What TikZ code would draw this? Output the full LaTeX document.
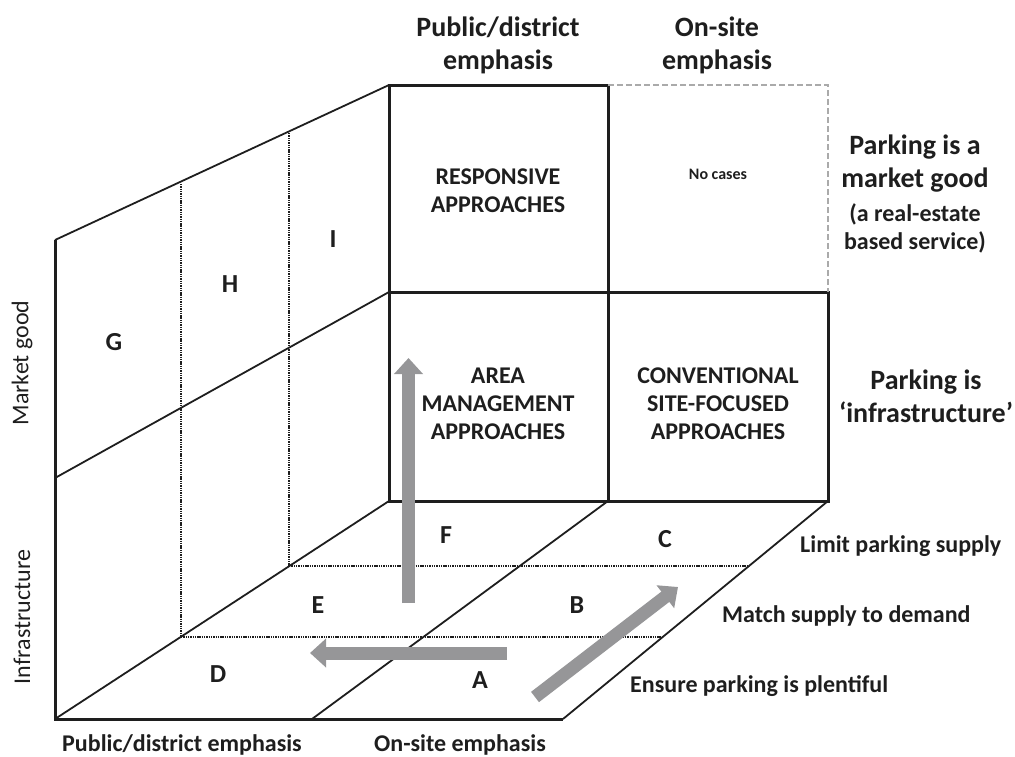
\documentclass[tikz,border=0pt]{standalone}
\usepackage{fontspec}
\setmainfont{Carlito}
\usetikzlibrary{arrows.meta,calc}
\definecolor{arrowgray}{RGB}{150,150,152}
\definecolor{ink}{RGB}{30,30,30}
\definecolor{dashgray}{RGB}{170,170,170}
\begin{document}
\begin{tikzpicture}[x=1pt,y=-1pt,
  thickline/.style={line width=3pt, draw=ink, line join=miter},
  thinline/.style={line width=1.8pt, draw=ink},
  dotline/.style={line width=2.2pt, draw=ink, dash pattern=on 1.4pt off 0.9pt},
  lightdash/.style={line width=1.3pt, draw=dashgray, dash pattern=on 6pt off 3pt},
  grayarrow/.style={line width=13pt, draw=arrowgray, -{Triangle[length=16pt,width=28pt]}},
  big/.style={font=\fontsize{28}{33}\selectfont\bfseries, text=ink, align=center, inner sep=0pt},
  mid/.style={font=\fontsize{24}{28}\selectfont\bfseries, text=ink, align=center, inner sep=0pt},
  small/.style={font=\fontsize{16}{19}\selectfont\bfseries, text=ink, align=center, inner sep=0pt},
  letter/.style={font=\fontsize{26}{30}\selectfont\bfseries, text=ink, inner sep=0pt},
  side/.style={font=\fontsize{24}{28}\selectfont\bfseries, text=ink, inner sep=0pt, anchor=west},
  axis/.style={font=\fontsize{24}{28}\selectfont, text=ink, inner sep=0pt, rotate=90}]
\useasboundingbox (0,0) rectangle (1015,756);
% front wall
\coordinate (F00) at (389,85);  \coordinate (F10) at (608,85);  \coordinate (F20) at (828,85);
\coordinate (F01) at (389,292); \coordinate (F11) at (608,292); \coordinate (F21) at (828,292);
\coordinate (F02) at (389,501); \coordinate (F12) at (608,501); \coordinate (F22) at (828,501);
% floor front edge
\coordinate (P0) at (55,719); \coordinate (P1) at (312,719); \coordinate (P2) at (563,719);
% left wall
\coordinate (L0) at (55,240); \coordinate (L1) at (55,478);
% floor dotted lines
\coordinate (D1a) at (289,566); \coordinate (D1b) at (748,566);
\coordinate (D2a) at (181,637); \coordinate (D2b) at (662,637);
% left wall dotted verticals
\coordinate (V1t) at (181,184); \coordinate (V2t) at (289,133);
% arrows
\coordinate (va0) at (408.5,603); \coordinate (va1) at (408.5,358);
\coordinate (ha0) at (507,653);   \coordinate (ha1) at (310,653);
\coordinate (da0) at (535,697);   \coordinate (da1) at (678,587);

% thin lines
\draw[thinline] (L0) -- (F00);
\draw[thinline] (L1) -- (F01);
\draw[thinline] (P0) -- (F02);
\draw[thinline] (P1) -- (F12);
\draw[thinline] (P2) -- (F22);
% dotted
\draw[dotline] (D1a) -- (D1b);
\draw[dotline] (D2a) -- (D2b);
\draw[dotline] (V1t) -- (D2a);
\draw[dotline] (V2t) -- (D1a);
% thick lines
\draw[thickline] (L0) -- (P0) -- (P2);
\draw[thickline] (F10) -- (F00) -- (F02) -- (F22) -- (F21) -- (F01);
\draw[thickline] (F10) -- (F12);
\draw[lightdash] (F10) -- (F20) -- (F21);
% arrows
\draw[grayarrow] (va0) -- (va1);
\draw[grayarrow] (ha0) -- (ha1);
\draw[grayarrow] (da0) -- (da1);

% headers
\node[big] (hpub) at (498,45) {Public/district\\emphasis};
\node[big] (hons) at (717,45) {On-site\\emphasis};
% cells
\node[mid] (resp) at (498,191) {RESPONSIVE\\APPROACHES};
\node[small] (nocase) at (718,174) {No cases};
\node[mid] (area) at (498,404) {AREA\\MANAGEMENT\\APPROACHES};
\node[mid] (conv) at (718,404) {CONVENTIONAL\\SITE-FOCUSED\\APPROACHES};
% right labels
\node[big] (market) at (915,164) {Parking is a\\market good};
\node[mid] (realest) at (915,228) {(a real-estate\\based service)};
\node[big] (infra) at (926,396) {Parking is\\`infrastructure'};
% letters
\node[letter] (G) at (114,342) {G};
\node[letter] (H) at (230,284) {H};
\node[letter] (I) at (333,239) {I};
\node[letter] (F) at (446,535) {F};
\node[letter] (C) at (665,539) {C};
\node[letter] (E) at (318,605) {E};
\node[letter] (B) at (577,605) {B};
\node[letter] (D) at (218,674) {D};
\node[letter] (A) at (480,680) {A};
% floor side labels
\node[side] (lim) at (800,546) {Limit parking supply};
\node[side] (mat) at (722,616) {Match supply to demand};
\node[side] (ens) at (630,686) {Ensure parking is plentiful};
% bottom labels
\node[mid] (bpub) at (182,745) {Public/district emphasis};
\node[mid] (bons) at (460,745) {On-site emphasis};
% axis labels
\node[axis] (amg) at (22,363) {Market good};
\node[axis] (ainf) at (22,617) {Infrastructure};
\end{tikzpicture}
\end{document}
